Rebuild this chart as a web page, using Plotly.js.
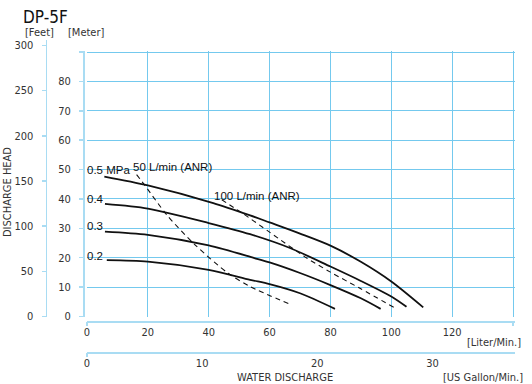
<!DOCTYPE html>
<html>
<head>
<meta charset="utf-8">
<script src="https://cdn.plot.ly/plotly-3.0.1.min.js"></script>
<style>html,body{margin:0;padding:0;background:#fff;}#chart{width:532px;height:384px;}</style>
</head>
<body>
<div id="chart"></div>
<script>
// ---- data ----
const literTicks  = [0, 20, 40, 60, 80, 100, 120];
const gallonTicks = [0, 10, 20, 30];
const meterTicks  = [0, 10, 20, 30, 40, 50, 60, 70, 80, 90];
const meterText   = ['0','10','20','30','40','50','60','70','80',''];
const feetTicks   = [0, 50, 100, 150, 200, 250, 300];
const gridX = [20, 40, 60, 80, 100, 120, 140];
const gridY = [10, 20, 30, 40, 50, 60, 70, 80, 90];

const p05x = [5.7, 20, 41.5, 53.6, 60, 70, 80, 90, 100, 110.5];
const p05y = [47.6, 44.6, 38.6, 34.4, 32.0, 28.2, 24.1, 18.6, 11.9, 3.1];
const p04x = [5.9, 20, 40, 53.6, 66.7, 80, 90, 100, 105];
const p04y = [38.3, 36.7, 31.8, 28.0, 23.3, 17.0, 12.1, 6.8, 3.3];
const p03x = [5.9, 20, 40, 55, 60, 70, 80, 90, 96.5];
const p03y = [28.9, 27.8, 24.2, 19.9, 18.4, 14.8, 10.7, 6.2, 2.6];
const p02x = [6.5, 20, 40, 53.6, 60, 70, 81.5];
const p02y = [19.2, 18.7, 15.9, 12.5, 11.0, 7.9, 2.6];
const a50x = [16.3, 19.1, 26.2, 35.5, 46.4, 53.6, 67.3];
const a50y = [48.3, 44.5, 34.6, 24.4, 14.7, 10.2, 3.9];
const a100x = [44.3, 51, 60, 72.2, 80, 89.7, 101];
const a100y = [39.7, 35.2, 28.7, 19.9, 15.1, 9.6, 3.0];

const LITERS_PER_GALLON = 3.785;

// ---- layout geometry ----
const W = 532, H = 384;
const px = v => v / W, py = v => (H - v) / H;
const PAD = 0.5;                       // small range padding so the edge grid lines get drawn
const xPxPer = (513 - 87) / 140, yPxPer = (316.5 - 52) / 90;
const X_TOP = 140 + PAD, Y_TOP = 90 + PAD;
const xDom = [px(87), px(513 + PAD * xPxPer)];
const yDom = [py(316.5), py(52 - PAD * yPxPer)];
const FEET_TOP = 306;
const gridColor = '#74c9ee';
const axisColor = '#a9dcf3';
const narrow = 'Liberation Sans Narrow, DejaVu Sans Condensed, Arial Narrow, sans-serif';
const tickFont = {family: narrow, size: 11, color: '#333'};
const labFont = {family: 'Liberation Sans, Arial, sans-serif', size: 11.5, color: '#111'};

const solid = {color: '#111', width: 1.8, shape: 'spline', smoothing: 0.8};
const dashed = {color: '#111', width: 1.1, dash: '5px,4px', shape: 'spline', smoothing: 0.8};

const traces = [
  {x: p05x, y: p05y, line: solid},
  {x: p04x, y: p04y, line: solid},
  {x: p03x, y: p03y, line: solid},
  {x: p02x, y: p02y, line: solid},
  {x: a50x, y: a50y, line: dashed},
  {x: a100x, y: a100y, line: dashed},
].map(t => Object.assign({type: 'scatter', mode: 'lines', xaxis: 'x', yaxis: 'y', hoverinfo: 'skip', showlegend: false}, t));
// invisible helper traces so every axis gets its subplot
[['x2','y'],['x3','y'],['x4','y'],['x5','y'],['x','y2'],['x6','y3']].forEach(([xa, ya]) => {
  traces.push({type: 'scatter', mode: 'markers', x: [0], y: [0], xaxis: xa, yaxis: ya,
    marker: {opacity: 0, size: 1}, hoverinfo: 'skip', showlegend: false, cliponaxis: true});
});

const hidden = {showticklabels: false, ticks: '', showline: false, zeroline: false, showgrid: false};

const layout = {
  width: W, height: H,
  margin: {l: 0, r: 0, t: 0, b: 0},
  paper_bgcolor: '#fff', plot_bgcolor: 'rgba(0,0,0,0)',
  showlegend: false,
  xaxis: Object.assign({}, hidden, {domain: xDom, range: [0, X_TOP], anchor: 'y',
    tickmode: 'array', tickvals: gridX, showgrid: true, gridcolor: gridColor, gridwidth: 1}),
  yaxis: Object.assign({}, hidden, {domain: yDom, range: [0, Y_TOP], anchor: 'x',
    tickmode: 'array', tickvals: gridY, showgrid: true, gridcolor: gridColor, gridwidth: 1}),
  // liter labels
  xaxis2: Object.assign({}, hidden, {overlaying: 'x', anchor: 'free', position: py(321),
    range: [0, X_TOP], tickmode: 'array', tickvals: literTicks, showticklabels: true,
    tickfont: tickFont, showline: true, linecolor: axisColor, linewidth: 1.5}),
  // gallon labels
  xaxis3: Object.assign({}, hidden, {overlaying: 'x', anchor: 'free', position: py(352),
    range: [0, X_TOP / LITERS_PER_GALLON], tickmode: 'array', tickvals: gallonTicks, showticklabels: true,
    tickfont: tickFont, showline: true, linecolor: axisColor, linewidth: 1.5}),
  // liter end ticks
  xaxis4: Object.assign({}, hidden, {overlaying: 'x', anchor: 'free', position: py(321),
    range: [0, X_TOP], tickmode: 'array', tickvals: [0, 140], ticks: 'outside', ticklen: 4,
    tickcolor: axisColor, tickwidth: 1.5}),
  // gallon end tick
  xaxis5: Object.assign({}, hidden, {overlaying: 'x', anchor: 'free', position: py(352),
    range: [0, X_TOP], tickmode: 'array', tickvals: [0], ticks: 'outside', ticklen: 4,
    tickcolor: axisColor, tickwidth: 1.5}),
  // helper x for feet axis
  xaxis6: Object.assign({}, hidden, {domain: [px(47), px(50)], anchor: 'y3', range: [0, 1]}),
  // meter axis
  yaxis2: Object.assign({}, hidden, {overlaying: 'y', anchor: 'free', position: px(83), side: 'left',
    range: [0, Y_TOP], tickmode: 'array', tickvals: meterTicks, ticktext: meterText, showticklabels: true,
    tickfont: tickFont, ticks: 'outside', ticklen: 4, tickcolor: axisColor, tickwidth: 1.5,
    showline: true, linecolor: axisColor, linewidth: 1.5, ticklabelstandoff: 6}),
  // feet axis
  yaxis3: Object.assign({}, hidden, {anchor: 'x6', side: 'left', domain: [yDom[0], py(40)],
    range: [0, FEET_TOP], tickmode: 'array', tickvals: feetTicks, showticklabels: true,
    tickfont: tickFont, ticks: 'outside', ticklen: 4, tickcolor: axisColor, tickwidth: 1.5,
    showline: true, linecolor: axisColor, linewidth: 1.5, ticklabelstandoff: 6}),
  annotations: [
    {text: 'DP-5F', xref: 'paper', yref: 'paper', x: px(21), y: py(17), xanchor: 'left', yanchor: 'middle',
      showarrow: false, font: {family: narrow, size: 17, color: '#111'}},
    {text: '[Feet]', xref: 'paper', yref: 'paper', x: px(39), y: py(32), xanchor: 'center', yanchor: 'middle',
      showarrow: false, font: tickFont},
    {text: '[Meter]', xref: 'paper', yref: 'paper', x: px(86), y: py(32), xanchor: 'center', yanchor: 'middle',
      showarrow: false, font: tickFont},
    {text: 'DISCHARGE HEAD', xref: 'paper', yref: 'paper', x: px(7), y: py(192), xanchor: 'center', yanchor: 'middle',
      textangle: -90, showarrow: false, font: tickFont},
    {text: '[Liter/Min.]', xref: 'paper', yref: 'paper', x: px(523), y: py(342), xanchor: 'right', yanchor: 'middle',
      showarrow: false, font: tickFont},
    {text: 'WATER DISCHARGE', xref: 'paper', yref: 'paper', x: px(285), y: py(377.5), xanchor: 'center', yanchor: 'middle',
      showarrow: false, font: tickFont},
    {text: '[US Gallon/Min.]', xref: 'paper', yref: 'paper', x: px(525), y: py(377.5), xanchor: 'right', yanchor: 'middle',
      showarrow: false, font: tickFont},
    {text: '0.5 MPa', xref: 'paper', yref: 'paper', x: px(85), y: py(170), xanchor: 'left', yanchor: 'middle', showarrow: false, font: labFont},
    {text: '0.4', xref: 'paper', yref: 'paper', x: px(85), y: py(199), xanchor: 'left', yanchor: 'middle', showarrow: false, font: labFont},
    {text: '0.3', xref: 'paper', yref: 'paper', x: px(85), y: py(226), xanchor: 'left', yanchor: 'middle', showarrow: false, font: labFont},
    {text: '0.2', xref: 'paper', yref: 'paper', x: px(85), y: py(256), xanchor: 'left', yanchor: 'middle', showarrow: false, font: labFont},
    {text: '50 L/min (ANR)', xref: 'paper', yref: 'paper', x: px(131), y: py(166.7), xanchor: 'left', yanchor: 'middle', showarrow: false, font: labFont},
    {text: '100 L/min (ANR)', xref: 'paper', yref: 'paper', x: px(212), y: py(195.7), xanchor: 'left', yanchor: 'middle', showarrow: false, font: labFont}
  ]
};

Plotly.newPlot('chart', traces, layout, {staticPlot: true, displayModeBar: false});
</script>
</body>
</html>
